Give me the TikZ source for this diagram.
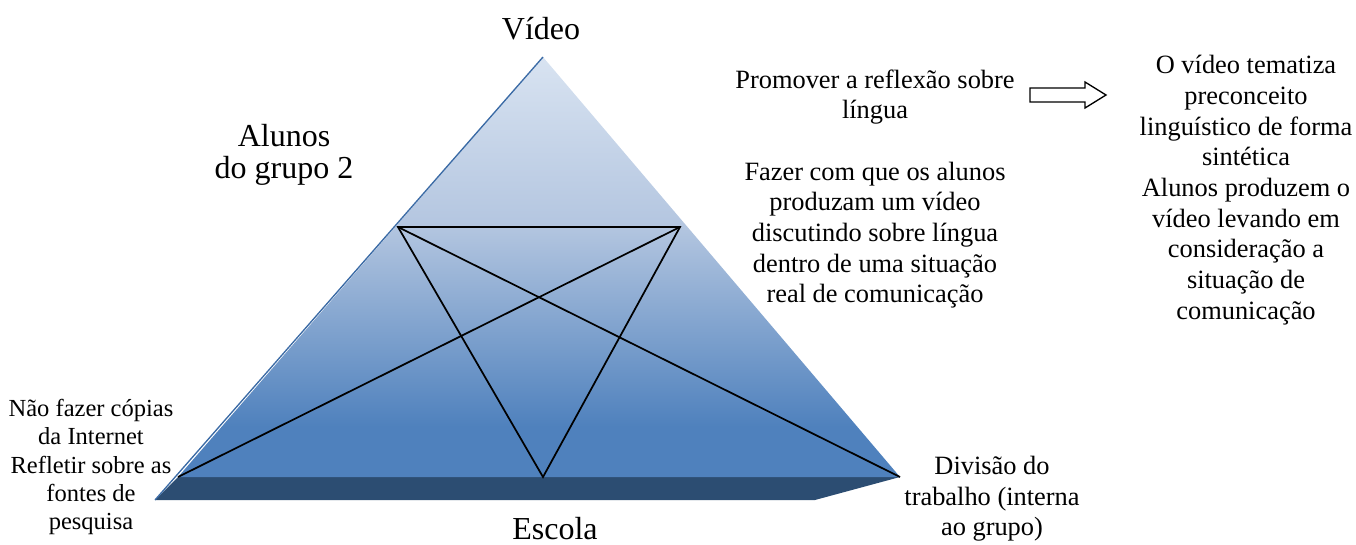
\documentclass[tikz,border=0pt]{standalone}
\usepackage{fontspec}
\setmainfont{Liberation Serif}
\usetikzlibrary{positioning}

\definecolor{pyrtop}{HTML}{D8E3F1}
\definecolor{pyrmid}{HTML}{B4C6E0}
\definecolor{pyrbot}{HTML}{4F81BD}
\definecolor{pyredge}{HTML}{3A6AA5}
\definecolor{slab}{HTML}{2C4D72}

\pgfdeclareverticalshading{pyrshade}{100bp}{color(0bp)=(pyrbot); color(31bp)=(pyrbot);
  color(55bp)=(pyrmid); color(75bp)=(pyrtop); color(100bp)=(pyrtop)}

\tikzset{
  txt/.style={align=center, inner sep=0pt, font=\fontsize{19.8}{23}\selectfont},
  smalltxt/.style={align=center, inner sep=0pt, font=\fontsize{18.4}{21.2}\selectfont},
  bigtxt/.style={align=center, inner sep=0pt, font=\fontsize{24}{24.5}\selectfont},
  web/.style={black, line width=1.3pt, line join=miter},
}

\begin{document}
\begin{tikzpicture}[x=0.75pt, y=-0.75pt]
\useasboundingbox (0,0) rectangle (1356,545);

% corners of the pyramid
\coordinate (apex) at (543,57);
\coordinate (bl) at (178,477);
\coordinate (br) at (900,477);
\coordinate (sl) at (155,500);
\coordinate (sr) at (815,500);

% base slab and face
\fill[slab] (bl) -- (br) -- (sr) -- (sl) -- cycle;
\shade[shading=pyrshade] (apex) -- (br) -- (bl) -- cycle;
\draw[pyredge, line width=1pt] (apex) -- (sl);

% inner triangles
\coordinate (ml) at (398,227);
\coordinate (mr) at (680,227);
\coordinate (mb) at (543,477);
\draw[web] (ml) -- (mr) -- (mb) -- cycle;
\draw[web] (bl) -- (mr);
\draw[web] (ml) -- (br);

% labels
\node[bigtxt] (video) at (541,29) {Vídeo};
\node[bigtxt] (escola) at (555,529) {Escola};
\node[bigtxt] (alunos) at (284,155) {Alunos\\do grupo 2};
\node[txt] (promover) at (875,97) {Promover a reflexão sobre\\língua};
\node[txt] (fazer) at (875,235) {Fazer com que os alunos\\produzam um vídeo\\discutindo sobre língua\\dentro de uma situação\\real de comunicação};
\node[txt] (resultado) at (1246,190) {O vídeo tematiza\\preconceito\\linguístico de forma\\sintética\\Alunos produzem o\\vídeo levando em\\consideração a\\situação de\\comunicação};
\node[smalltxt] (regras) at (91,467) {Não fazer cópias\\da Internet\\Refletir sobre as\\fontes de\\pesquisa};
\node[txt] (divisao) at (992,499) {Divisão do\\trabalho (interna\\ao grupo)};

% outline arrow
\draw[black, line width=1pt, fill=white]
  (1030,88) -- (1085,88) -- (1085,82) -- (1106,95) -- (1085,108)
  -- (1085,102) -- (1030,102) -- cycle;
\end{tikzpicture}
\end{document}
